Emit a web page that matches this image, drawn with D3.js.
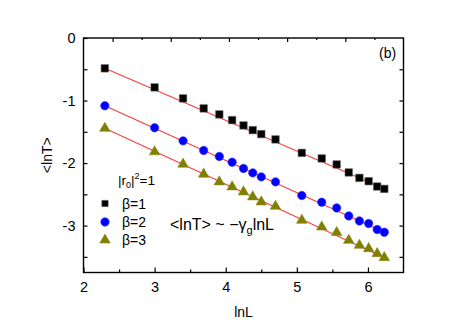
<!DOCTYPE html>
<html><head><meta charset="utf-8">
<script src="https://cdn.jsdelivr.net/npm/d3@7"></script>
<style>body{margin:0;background:#fff}svg{display:block}text{font-family:Arial,"Liberation Sans",sans-serif}</style>
</head><body><svg id="c" width="469" height="327"></svg>
<script>
const lnL = [2.30,3.00,3.40,3.69,3.91,4.09,4.25,4.38,4.50,4.70,5.07,5.35,5.56,5.73,5.88,6.01,6.13,6.23];
const beta1 = [-0.485,-0.79,-0.966,-1.126,-1.222,-1.313,-1.398,-1.473,-1.537,-1.622,-1.837,-1.926,-2.022,-2.150,-2.237,-2.290,-2.375,-2.413];
const beta2 = [-1.084,-1.436,-1.645,-1.798,-1.894,-1.986,-2.086,-2.157,-2.221,-2.301,-2.519,-2.626,-2.717,-2.845,-2.925,-2.967,-3.063,-3.106];
const beta3 = [-1.444,-1.82,-2.018,-2.178,-2.301,-2.381,-2.461,-2.541,-2.621,-2.690,-2.914,-3.022,-3.111,-3.235,-3.315,-3.368,-3.448,-3.512];
const fitSlope = [-0.49,-0.514,-0.526];
const fitIntercept = [0.642,0.098,-0.234];
const fitRange = [2.3,6.24];
const seriesNames = ["β=1","β=2","β=3"];
const xTicks = [2,3,4,5,6];
const yTicks = [0,-1,-2,-3];

(function(){
const svg = d3.select("#c");
const L=83.5, R=403.5, T=38, B=272.5;
const x = d3.scaleLinear().domain([2,6.5]).range([L,R]);
const y = d3.scaleLinear().domain([-3.75,0]).range([B,T]);
const xTop = d3.scaleLinear().domain([-0.5,5]).range([L,R]);

const gAx = svg.append("g");
const bot = gAx.append("g").attr("transform",`translate(0,${B})`)
  .call(d3.axisBottom(x).tickValues(xTicks).tickSize(-5).tickPadding(9).tickFormat(d3.format("d")));
bot.append("g").call(d3.axisBottom(x).tickValues([2.5,3.5,4.5,5.5]).tickSize(-3).tickFormat(""));
const topAx = gAx.append("g").attr("transform",`translate(0,${T})`)
  .call(d3.axisTop(xTop).tickValues([0,1,2,3,4]).tickSize(-4).tickFormat(""));
topAx.append("g").call(d3.axisTop(xTop).tickValues([0.5,1.5,2.5,3.5,4.5]).tickSize(-2).tickFormat(""));
gAx.append("g").attr("transform",`translate(${L},0)`)
  .call(d3.axisLeft(y).tickValues(yTicks).tickSize(-4).tickPadding(8).tickFormat(d=>d===0?"0":"-"+Math.abs(d)));
gAx.append("g").attr("transform",`translate(${L},0)`)
  .call(d3.axisLeft(y).tickValues([-0.5,-1.5,-2.5,-3.5]).tickSize(-4).tickFormat(""));
gAx.append("g").attr("transform",`translate(${R},0)`)
  .call(d3.axisRight(y).tickValues([-0.5,-1,-1.5,-2,-2.5,-3,-3.5]).tickSize(-4).tickFormat(""));
gAx.selectAll(".domain").remove();
gAx.selectAll(".tick line").attr("stroke","#000").attr("stroke-width",1.2);
gAx.selectAll(".tick text").attr("font-size","14.5px").attr("fill","#000").attr("font-family","Arial, 'Liberation Sans', sans-serif");
svg.append("rect").attr("x",L).attr("y",T).attr("width",R-L).attr("height",B-T)
  .attr("fill","none").attr("stroke","#000").attr("stroke-width",1.4);

const fits = fitSlope.map((s,i)=>fitRange.map(v=>[v, fitIntercept[i]+s*v]));
const line = d3.line().x(d=>x(d[0])).y(d=>y(d[1]));
svg.append("g").selectAll("path").data(fits).join("path")
  .attr("d",line).attr("stroke","#ff3b3b").attr("stroke-width",1.1).attr("fill","none");

const sq = d3.symbol().type(d3.symbolSquare).size(56);
const ci = d3.symbol().type(d3.symbolCircle).size(56);
const tr = d3.symbol().type(d3.symbolTriangle).size(48);
const series = [
  {vals:beta1, sym:sq, fill:"#000", stroke:"#666"},
  {vals:beta2, sym:ci, fill:"#0000ff", stroke:"#3333ff"},
  {vals:beta3, sym:tr, fill:"#808000", stroke:"#8c8c1a"}
];
series.forEach(s=>{
  svg.append("g").selectAll("path").data(lnL.map((v,i)=>[v,s.vals[i]])).join("path")
    .attr("d",s.sym).attr("transform",d=>`translate(${x(d[0])},${y(d[1])})`)
    .attr("fill",s.fill).attr("stroke",s.stroke).attr("stroke-width",0.6);
});

svg.append("text").attr("x",(L+R)/2).attr("y",316.5).attr("text-anchor","middle").attr("font-size","14px").text("lnL");
svg.append("text").attr("transform",`translate(52,${(T+B)/2}) rotate(-90)`).attr("text-anchor","middle").attr("font-size","14px").text("<lnT>");
svg.append("text").attr("x",379).attr("y",57.5).attr("font-size","14px").text("(b)");

const lg = svg.append("g");
const lt = lg.append("text").attr("x",118).attr("y",185).attr("font-size","13.5px");
lt.append("tspan").text("|r");
lt.append("tspan").attr("font-size","9px").attr("dy",3).text("0");
lt.append("tspan").attr("dy",-3).text("|");
lt.append("tspan").attr("font-size","9px").attr("dy",-6).text("2");
lt.append("tspan").attr("dy",6).text("=1");
const legY = [203.5,222,240];
const legSym = [d3.symbol().type(d3.symbolSquare).size(40), d3.symbol().type(d3.symbolCircle).size(56), d3.symbol().type(d3.symbolTriangle).size(48)];
series.forEach((s,i)=>{
  lg.append("path").attr("d",legSym[i]).attr("transform",`translate(105,${legY[i]})`)
    .attr("fill",s.fill).attr("stroke",s.stroke).attr("stroke-width",0.6);
  lg.append("text").attr("x",122).attr("y",legY[i]+5).attr("font-size","14px").text(seriesNames[i]);
});

const ex = svg.append("text").attr("x",170).attr("y",229.5).attr("font-size","16px");
ex.append("tspan").text("<lnT> ~ −γ");
ex.append("tspan").attr("font-size","11px").attr("dy",4).text("g");
ex.append("tspan").attr("dy",-4).text("lnL");
})();
</script></body></html>
